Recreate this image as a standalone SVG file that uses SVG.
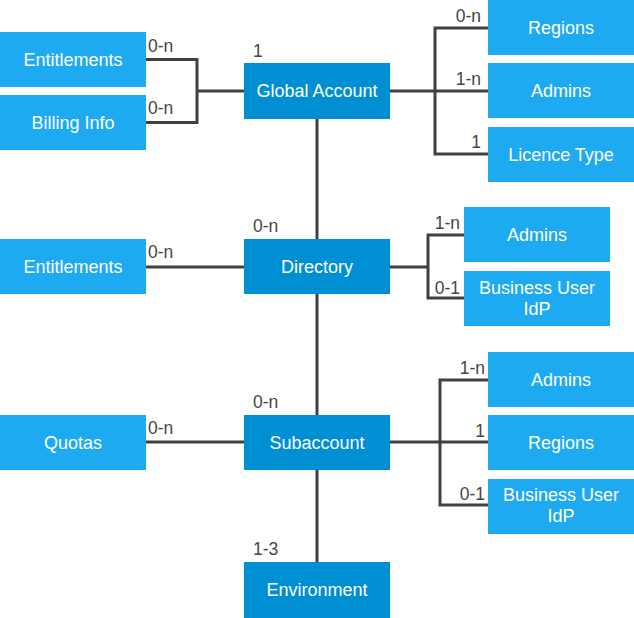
<svg xmlns="http://www.w3.org/2000/svg" width="634" height="618" viewBox="0 0 634 618">
<style>
.l{fill:#1eaaf1}
.d{fill:#008fd3}
.t{fill:#fff;font-family:"Liberation Sans",Arial,sans-serif;font-size:18px;text-anchor:middle}
.c{fill:none;stroke:#404040;stroke-width:3}
.m{fill:#454545;font-family:"Liberation Sans",Arial,sans-serif;font-size:17.5px}
.r{text-anchor:end}
</style>
<rect width="634" height="618" fill="#fff"/>
<g id="connectors">
<path class="c" d="M146 59.5H197V122.5H146M197 91H244"/>
<path class="c" d="M390 91H435M488 28H435V154H488M435 91H488"/>
<path class="c" d="M317 119V239M317 294V415M317 470V562"/>
<path class="c" d="M146 267H244M146 442H244"/>
<path class="c" d="M390 267H428M464 235H428V298H464"/>
<path class="c" d="M390 442H488M488 380H440V505H488"/>
</g>
<g id="labels">
<text class="m" x="148" y="52">0-n</text>
<text class="m" x="148" y="114">0-n</text>
<text class="m" x="253" y="57">1</text>
<text class="m r" x="481" y="22">0-n</text>
<text class="m r" x="481" y="85">1-n</text>
<text class="m r" x="481" y="148">1</text>
<text class="m" x="253" y="232">0-n</text>
<text class="m" x="148" y="258">0-n</text>
<text class="m r" x="460" y="229">1-n</text>
<text class="m r" x="460" y="294">0-1</text>
<text class="m" x="253" y="408">0-n</text>
<text class="m" x="148" y="434">0-n</text>
<text class="m r" x="485" y="374">1-n</text>
<text class="m r" x="485" y="437">1</text>
<text class="m r" x="485" y="500">0-1</text>
<text class="m" x="253" y="555">1-3</text>
</g>
<g id="entitlements1"><rect class="l" x="0" y="32" width="146" height="55"/><text class="t" x="73" y="65.5">Entitlements</text></g>
<g id="billing"><rect class="l" x="0" y="95" width="146" height="55"/><text class="t" x="73" y="128.5">Billing Info</text></g>
<g id="global"><rect class="d" x="244" y="63" width="146" height="56"/><text class="t" x="317" y="97">Global Account</text></g>
<g id="regions1"><rect class="l" x="488" y="0" width="146" height="55"/><text class="t" x="561" y="33.5">Regions</text></g>
<g id="admins1"><rect class="l" x="488" y="63" width="146" height="55"/><text class="t" x="561" y="96.5">Admins</text></g>
<g id="licence"><rect class="l" x="488" y="127" width="146" height="55"/><text class="t" x="561" y="160.5">Licence Type</text></g>
<g id="entitlements2"><rect class="l" x="0" y="239" width="146" height="55"/><text class="t" x="73" y="272.5">Entitlements</text></g>
<g id="directory"><rect class="d" x="244" y="239" width="146" height="55"/><text class="t" x="317" y="272.5">Directory</text></g>
<g id="admins2"><rect class="l" x="464" y="207" width="146" height="55"/><text class="t" x="537" y="241">Admins</text></g>
<g id="idp1"><rect class="l" x="464" y="271" width="146" height="55"/><text class="t" x="537" y="294">Business User</text><text class="t" x="537" y="315">IdP</text></g>
<g id="quotas"><rect class="l" x="0" y="415" width="146" height="55"/><text class="t" x="73" y="448.5">Quotas</text></g>
<g id="subaccount"><rect class="d" x="244" y="415" width="146" height="55"/><text class="t" x="317" y="448.5">Subaccount</text></g>
<g id="admins3"><rect class="l" x="488" y="352" width="146" height="55"/><text class="t" x="561" y="385.5">Admins</text></g>
<g id="regions2"><rect class="l" x="488" y="415" width="146" height="55"/><text class="t" x="561" y="448.5">Regions</text></g>
<g id="idp2"><rect class="l" x="488" y="479" width="146" height="55"/><text class="t" x="561" y="501">Business User</text><text class="t" x="561" y="522">IdP</text></g>
<g id="environment"><rect class="d" x="244" y="562" width="146" height="56"/><text class="t" x="317" y="596">Environment</text></g>
</svg>
